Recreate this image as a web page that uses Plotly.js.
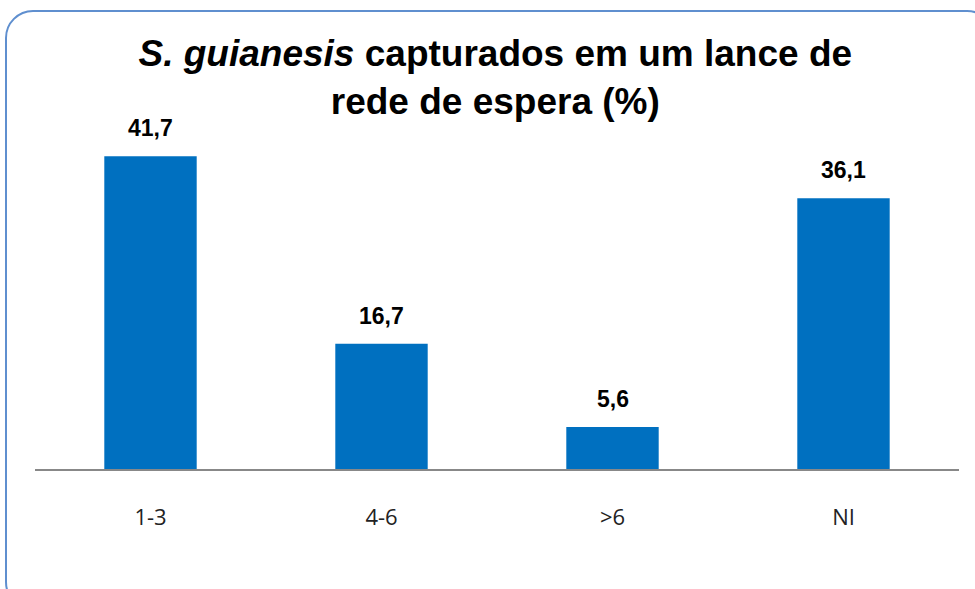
<!DOCTYPE html>
<html>
<head>
<meta charset="utf-8">
<script src="https://cdn.plot.ly/plotly-3.0.1.min.js"></script>
<style>
  html, body { margin: 0; padding: 0; background: #ffffff; overflow: hidden; }
  #wrap { position: relative; width: 975px; height: 589px; }
  #chart { position: absolute; left: 0; top: 0; width: 975px; height: 589px; }
  #frame { position: absolute; left: 5px; top: 10px; width: 990px; height: 600px;
           border: 2px solid #5f8fcf; border-radius: 28px; pointer-events: none; box-sizing: border-box; }
</style>
</head>
<body>
<div id="wrap">
  <div id="chart"></div>
  <div id="frame"></div>
</div>
<script>
const categories = ['1-3', '4-6', '>6', 'NI'];
const values = [41.7, 16.7, 5.6, 36.1];
const barColor = '#0070c0';

const fmt = v => v.toFixed(1).replace('.', ',');

const trace = {
  type: 'bar',
  x: categories,
  y: values,
  marker: { color: barColor },
  hoverinfo: 'none'
};

const annotations = categories.map((c, i) => ({
  x: c, y: values[i], xref: 'x', yref: 'y',
  text: '<b>' + fmt(values[i]) + '</b>',
  showarrow: false, yanchor: 'bottom', yshift: 13,
  font: { family: 'Liberation Sans, Arial, sans-serif', size: 23, color: '#000000' }
}));

const layout = {
  width: 975, height: 589,
  margin: { l: 35, r: 16, t: 100, b: 120 },
  paper_bgcolor: 'rgba(0,0,0,0)',
  plot_bgcolor: 'rgba(0,0,0,0)',
  bargap: 0.6,
  showlegend: false,
  title: {
    text: '<b><i>S. guianesis</i> capturados em um lance de<br>rede de espera (%)</b>',
    font: { family: 'Liberation Sans, Arial, sans-serif', size: 37, color: '#000000' },
    x: 0.508, xanchor: 'center', xref: 'container',
    y: 1 - 66 / 589, yanchor: 'top', yref: 'container'
  },
  xaxis: {
    type: 'category',
    showline: true, linecolor: '#888888', linewidth: 1.5,
    showgrid: false, zeroline: false, ticks: '',
    ticklabelstandoff: 28,
    tickfont: { family: 'Open Sans, Liberation Sans, sans-serif', size: 22, color: '#222222' }
  },
  yaxis: {
    range: [0, 369 / 7.5],
    visible: false, showgrid: false, zeroline: false
  },
  annotations: annotations
};

Plotly.newPlot('chart', [trace], layout, { displayModeBar: false, staticPlot: true });
</script>
</body>
</html>
